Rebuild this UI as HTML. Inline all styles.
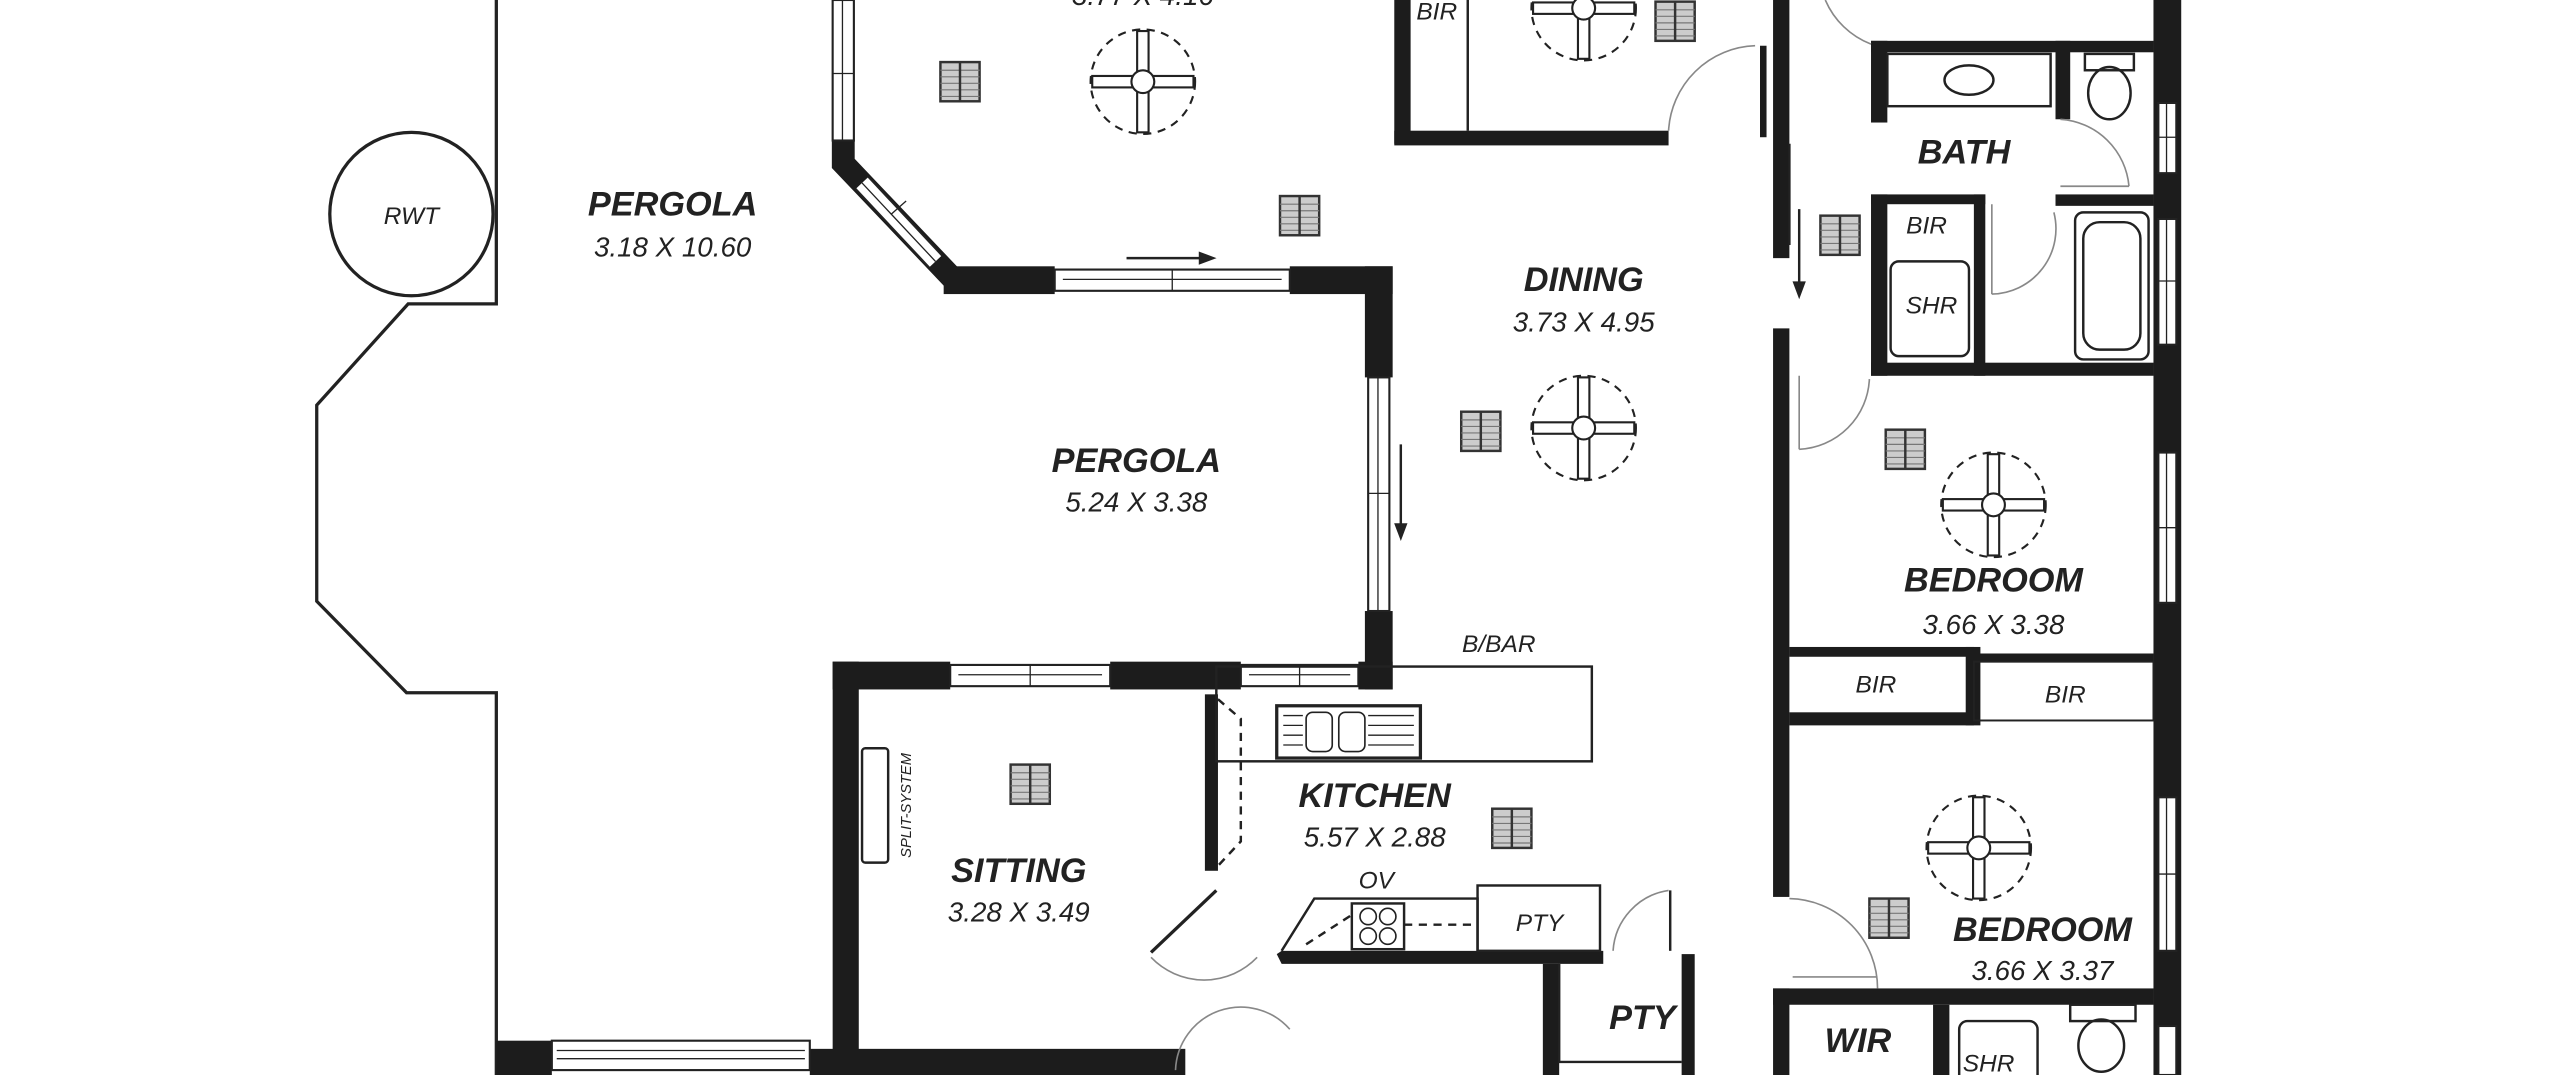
<!DOCTYPE html>
<html><head><meta charset="utf-8"><style>
html,body{margin:0;padding:0;background:#fff;overflow:hidden}
svg{display:block}
text{font-family:"Liberation Sans",sans-serif;font-style:italic;fill:#222;text-anchor:middle}
.b{font-weight:bold;font-size:21px}
.d{font-size:17px}
.s{font-size:15px}
</style></head><body>
<svg width="2560" height="1075" viewBox="0 0 1568 658" preserveAspectRatio="none" xmlns="http://www.w3.org/2000/svg">
<defs>
<g id="fan" fill="#fff" stroke="#222" stroke-width="1.3">
<circle r="32" stroke-dasharray="5 4"/>
<rect x="-3.5" y="-31" width="7" height="62"/>
<rect x="-31" y="-3.5" width="62" height="7"/>
<rect x="-2.5" y="-30" width="5" height="60" stroke="none"/>
<circle r="7"/>
</g>
<g id="vent">
<rect x="-12" y="-12" width="24" height="24" fill="#ccc" stroke="#333" stroke-width="1.5"/>
<path d="M-12 -7H12M-12 -3H12M-12 1H12M-12 5H12M-12 9H12" stroke="#777" stroke-width="0.7"/>
<path d="M0 -12V12" stroke="#333" stroke-width="1.5"/>
</g>
</defs>
<g fill="none" stroke="#222" stroke-width="2">
<path d="M304 0V186H250L194 248V368L249 424H304V658"/>
<ellipse cx="252" cy="131" rx="50" ry="50"/>
</g>
<text class="s" x="252" y="137">RWT</text>
<!-- diagonal wall -->
<path d="M516.5 86V100L585 172H590" fill="none" stroke="#1c1c1c" stroke-width="14" stroke-linejoin="miter"/>
<path d="M528 112L573 160" stroke="#222" stroke-width="12"/>
<path d="M528 112L573 160" stroke="#fff" stroke-width="9.5"/>
<path d="M528 112L573 160" stroke="#222" stroke-width="0.8"/>
<path d="M546 131L555 123" stroke="#222" stroke-width="0.8"/>
<g fill="#1c1c1c">
<rect x="510" y="86" width="13" height="10"/>
<rect x="578" y="163" width="68" height="17"/>
<rect x="790" y="163" width="63" height="17"/>
<rect x="836" y="163" width="17" height="68"/>
<rect x="836" y="374" width="17" height="48"/>
<rect x="510" y="405" width="72" height="17"/>
<rect x="680" y="405" width="80" height="17"/>
<rect x="832" y="405" width="21" height="17"/>
<rect x="510" y="405" width="16" height="245"/>
<rect x="304" y="637" width="34" height="21"/>
<rect x="496" y="642" width="230" height="16"/>
<rect x="738" y="425" width="8" height="108"/>
<rect x="854" y="0" width="10" height="88"/>
<rect x="854" y="80" width="168" height="9"/>
<rect x="1086" y="0" width="10" height="158"/>
<rect x="1078" y="28" width="4" height="56"/>
<rect x="1086" y="201" width="10" height="348"/>
<rect x="1086" y="605" width="10" height="53"/>
<rect x="1319" y="0" width="17" height="658"/>
<rect x="1146" y="25" width="173" height="7"/>
<rect x="1146" y="25" width="10" height="50"/>
<rect x="1259" y="25" width="9" height="48"/>
<rect x="1259" y="119" width="60" height="7"/>
<rect x="1146" y="119" width="70" height="6"/>
<rect x="1146" y="119" width="10" height="111"/>
<rect x="1209" y="119" width="7" height="111"/>
<rect x="1146" y="222" width="173" height="8"/>
<rect x="1096" y="396" width="113" height="6"/>
<rect x="1204" y="396" width="9" height="48"/>
<rect x="1209" y="400" width="110" height="5"/>
<rect x="1096" y="436" width="113" height="8"/>
<rect x="1086" y="605" width="233" height="10"/>
<rect x="1184" y="615" width="10" height="43"/>
<polygon points="785,582 982,582 982,590 785,590 782,584"/>
<rect x="945" y="590" width="10" height="68"/>
<rect x="1030" y="584" width="8" height="74"/>
</g>
<g fill="#fff" stroke="#222" stroke-width="1.3">
<rect x="510" y="0" width="13" height="86"/>
<rect x="646" y="165" width="144" height="13"/>
<rect x="838" y="231" width="13" height="143"/>
<rect x="582" y="407" width="98" height="13"/>
<rect x="760" y="407" width="72" height="13"/>
<rect x="338" y="637" width="158" height="18"/>
<rect x="1322" y="63" width="11" height="43"/>
<rect x="1322" y="134" width="11" height="77"/>
<rect x="1322" y="277" width="11" height="92"/>
<rect x="1322" y="488" width="11" height="94"/>
<rect x="1322" y="628" width="11" height="30"/>
</g>
<g stroke="#222" stroke-width="0.8" fill="none">
<path d="M516 0V86M510 45H523M718 165V178M651 171H785M844 231V374M838 302H851M631 407V420M587 413H675M796 407V420M765 413H827M341 643H493M341 648H493M1327 63V106M1322 84H1333M1327 134V211M1322 172H1333M1327 277V369M1322 323H1333M1327 488V582M1322 535H1333"/>
</g>
<g stroke="#222" stroke-width="1.5" fill="#222">
<path d="M690 158H738"/><polygon points="743,158 735,155 735,161"/>
<path d="M858 272V324"/><polygon points="858,329 855,321 861,321"/>
<path d="M1102 128V176"/><polygon points="1102,181 1099,173 1105,173"/>
</g>
<g fill="none" stroke="#222" stroke-width="1.5">
<path d="M899 0V80"/>
<rect x="745" y="408" width="230" height="58"/>
<rect x="782" y="432" width="88" height="32" stroke-width="2"/>
<rect x="800" y="436" width="16" height="24" rx="4" stroke-width="1"/>
<rect x="820" y="436" width="16" height="24" rx="4" stroke-width="1"/>
<path d="M786 438H798M786 444H798M786 450H798M786 456H798M838 438H866M838 444H866M838 450H866M838 456H866" stroke-width="0.8"/>
<path d="M746 428L760 440V515L746 530" stroke-dasharray="5 4"/>
<rect x="528" y="458" width="16" height="70" rx="2"/>
<path d="M705 583L745 545" stroke-width="2"/>
<path d="M705 586A45 45 0 0 0 770 586M790 630A40 40 0 0 0 720 655" stroke="#888" stroke-width="1"/>
<path d="M785 582L805 550H905V582" />
<rect x="905" y="542" width="75" height="40"/>
<rect x="828" y="553" width="32" height="28"/>
<g stroke-width="1"><circle cx="838" cy="561" r="5"/><circle cx="850" cy="561" r="5"/><circle cx="838" cy="573" r="5"/><circle cx="850" cy="573" r="5"/></g>
<path d="M860 566H905M800 578L828 560" stroke-dasharray="5 4"/>
<path d="M955 590V650H1030"/>
<path d="M1023 545V582" />
<path d="M1022 545A40 40 0 0 0 988 582" stroke="#888" stroke-width="1"/>
<path d="M1022 80A55 55 0 0 1 1075 28" stroke="#888" stroke-width="1"/>
<path d="M1146 27A50 50 0 0 1 1118 0" stroke="#888" stroke-width="1"/>
<rect x="1156" y="33" width="100" height="32"/>
<ellipse cx="1206" cy="49" rx="15" ry="9"/>
<rect x="1277" y="33" width="30" height="10"/>
<ellipse cx="1292" cy="57" rx="13" ry="16"/>
<rect x="1271" y="130" width="45" height="90" rx="5"/>
<rect x="1276" y="136" width="35" height="78" rx="10"/>
<rect x="1158" y="160" width="48" height="58" rx="5"/>
<rect x="1209" y="405" width="110" height="36" stroke-width="1.2"/>
<rect x="1200" y="625" width="48" height="40" rx="5"/>
<rect x="1268" y="615" width="40" height="10"/>
<ellipse cx="1287" cy="640" rx="14" ry="16"/>
<path d="M1262 73A45 45 0 0 1 1304 114M1262 114H1304" stroke="#888" stroke-width="1"/>
<path d="M1220 125V180M1258 130A40 40 0 0 1 1220 180" stroke="#888" stroke-width="1"/>
<path d="M1102 230V275M1102 275A45 45 0 0 0 1145 232" stroke="#888" stroke-width="1"/>
<path d="M1096 550A55 55 0 0 1 1150 605M1098 598H1150" stroke="#888" stroke-width="1"/>
<path d="M1096 88V150" />
</g>
<use href="#fan" x="700" y="50"/>
<use href="#fan" x="970" y="5"/>
<use href="#fan" x="970" y="262"/>
<use href="#fan" x="1221" y="309"/>
<use href="#fan" x="1212" y="519"/>
<use href="#vent" x="588" y="50"/>
<use href="#vent" x="796" y="132"/>
<use href="#vent" x="1026" y="13"/>
<use href="#vent" x="907" y="264"/>
<use href="#vent" x="1127" y="144"/>
<use href="#vent" x="1167" y="275"/>
<use href="#vent" x="1157" y="562"/>
<use href="#vent" x="631" y="480"/>
<use href="#vent" x="926" y="507"/>
<text class="d" x="700" y="3">3.77 X 4.16</text>
<text class="s" x="880" y="12">BIR</text>
<text class="b" x="412" y="132">PERGOLA</text>
<text class="d" x="412" y="157">3.18 X 10.60</text>
<text class="b" x="696" y="289">PERGOLA</text>
<text class="d" x="696" y="313">5.24 X 3.38</text>
<text class="b" x="970" y="178">DINING</text>
<text class="d" x="970" y="203">3.73 X 4.95</text>
<text class="b" x="1203" y="100">BATH</text>
<text class="s" x="1180" y="143">BIR</text>
<text class="s" x="1183" y="192">SHR</text>
<text class="b" x="1221" y="362">BEDROOM</text>
<text class="d" x="1221" y="388">3.66 X 3.38</text>
<text class="s" x="1149" y="424">BIR</text>
<text class="s" x="1265" y="430">BIR</text>
<text class="b" x="1251" y="576">BEDROOM</text>
<text class="d" x="1251" y="600">3.66 X 3.37</text>
<text class="b" x="1138" y="644">WIR</text>
<text class="s" x="1218" y="656">SHR</text>
<text class="s" x="918" y="399">B/BAR</text>
<text class="b" x="842" y="494">KITCHEN</text>
<text class="d" x="842" y="518">5.57 X 2.88</text>
<text class="s" x="843" y="544">OV</text>
<text class="s" x="943" y="570">PTY</text>
<text class="b" x="1006" y="630">PTY</text>
<text class="b" x="624" y="540">SITTING</text>
<text class="d" x="624" y="564">3.28 X 3.49</text>
<text x="0" y="0" transform="translate(558,493) rotate(-90)" style="font-size:9px">SPLIT-SYSTEM</text>
</svg>
</body></html>
